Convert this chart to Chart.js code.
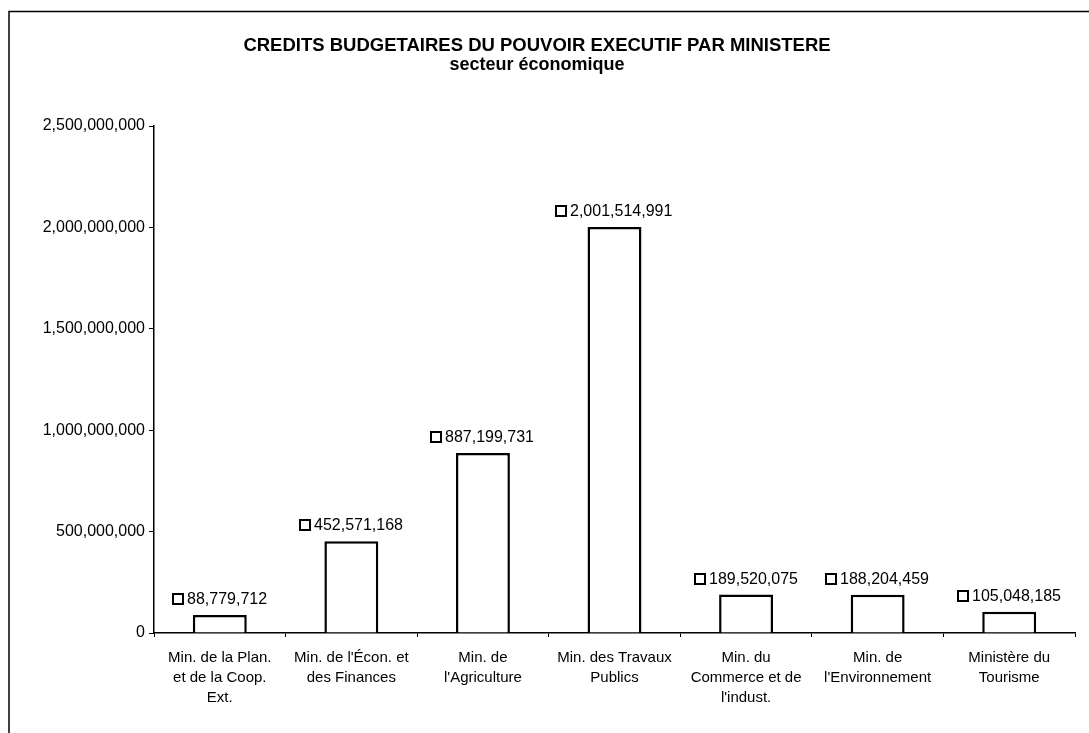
<!DOCTYPE html>
<html lang="fr">
<head>
    <meta charset="UTF-8">
    <title>Crédits budgétaires - secteur économique</title>
    <script src="https://cdn.jsdelivr.net/npm/chart.js"></script>
    <style>
        body {
            margin: 0;
            padding: 0;
            background: #fff;
        }
        #wrap {
            width: 1089px;
            height: 733px;
        }
    </style>
</head>
<body>
    <div id="wrap"><canvas id="budgetChart" width="1089" height="733"></canvas></div>

    <script>
        const ministries = [
            ['Min. de la Plan.', 'et de la Coop.', 'Ext.'],
            ["Min. de l'Écon. et", 'des Finances'],
            ['Min. de', "l'Agriculture"],
            ['Min. des Travaux', 'Publics'],
            ['Min. du', 'Commerce et de', "l'indust."],
            ['Min. de', "l'Environnement"],
            ['Ministère du', 'Tourisme']
        ];
        const credits = [88779712, 452571168, 887199731, 2001514991, 189520075, 188204459, 105048185];
        const yTicks = [0, 500000000, 1000000000, 1500000000, 2000000000, 2500000000];

        const titleText = 'CREDITS BUDGETAIRES DU POUVOIR EXECUTIF PAR MINISTERE';
        const subtitleText = 'secteur économique';

        const fmt = v => v.toLocaleString('en-US');
        const FONT = '"Liberation Sans", Arial, sans-serif';

        // frame + titles
        const framePlugin = {
            id: 'frame',
            beforeDraw(chart) {
                const ctx = chart.ctx;
                ctx.save();
                ctx.fillStyle = '#fff';
                ctx.fillRect(0, 0, chart.width, chart.height);
                ctx.strokeStyle = '#000';
                ctx.lineWidth = 1.5;
                ctx.beginPath();
                ctx.moveTo(9, chart.height + 2);
                ctx.lineTo(9, 11.5);
                ctx.lineTo(chart.width + 2, 11.5);
                ctx.stroke();

                ctx.fillStyle = '#000';
                ctx.textAlign = 'center';
                ctx.textBaseline = 'middle';
                ctx.font = 'bold 18.5px ' + FONT;
                ctx.fillText(titleText, 537, 46);
                ctx.font = 'bold 18px ' + FONT;
                ctx.fillText(subtitleText, 537, 65);
                ctx.restore();
            }
        };

        // value labels with the little square key
        const valueLabels = {
            id: 'valueLabels',
            afterDatasetsDraw(chart) {
                const ctx = chart.ctx;
                const meta = chart.getDatasetMeta(0);
                ctx.save();
                ctx.font = '16px ' + FONT;
                ctx.textBaseline = 'middle';
                ctx.textAlign = 'left';
                meta.data.forEach((bar, i) => {
                    const txt = fmt(credits[i]);
                    const tw = ctx.measureText(txt).width;
                    const box = 10, gap = 4;
                    const total = box + gap + tw;
                    const x0 = Math.round(bar.x - total / 2);
                    const y = Math.round(bar.y - 16);
                    ctx.strokeStyle = '#000';
                    ctx.lineWidth = 2;
                    ctx.fillStyle = '#fff';
                    ctx.fillRect(x0, y - box / 2, box, box);
                    ctx.strokeRect(x0, y - box / 2, box, box);
                    ctx.fillStyle = '#000';
                    ctx.fillText(txt, x0 + box + gap, y + 1);
                });
                ctx.restore();
            }
        };

        const ctx = document.getElementById('budgetChart').getContext('2d');
        new Chart(ctx, {
            type: 'bar',
            data: {
                labels: ministries,
                datasets: [{
                    data: credits,
                    backgroundColor: '#fff',
                    borderColor: '#000',
                    borderWidth: 2.5,
                    categoryPercentage: 1,
                    barPercentage: 0.41
                }]
            },
            options: {
                responsive: false,
                animation: false,
                layout: { padding: { top: 126, right: 14, left: 9, bottom: 0 } },
                plugins: {
                    legend: { display: false },
                    tooltip: { enabled: false }
                },
                scales: {
                    x: {
                        grid: {
                            drawOnChartArea: false,
                            tickLength: 4,
                            color: '#000'
                        },
                        border: { color: '#000', width: 1.5 },
                        ticks: {
                            color: '#000',
                            font: { family: FONT, size: 15, lineHeight: 1.33 },
                            maxRotation: 0,
                            autoSkip: false,
                            padding: 11
                        },
                        afterFit(scale) { scale.height = 100; }
                    },
                    y: {
                        min: 0,
                        max: 2500000000,
                        afterBuildTicks(scale) {
                            scale.ticks = yTicks.map(v => ({ value: v }));
                        },
                        grid: {
                            drawOnChartArea: false,
                            tickLength: 5,
                            color: '#000'
                        },
                        border: { color: '#000', width: 1.5 },
                        ticks: {
                            color: '#000',
                            font: { family: FONT, size: 16 },
                            padding: 4,
                            callback: v => fmt(v)
                        },
                        afterFit(scale) { scale.width = 145; }
                    }
                }
            },
            plugins: [framePlugin, valueLabels]
        });
    </script>
</body>
</html>
